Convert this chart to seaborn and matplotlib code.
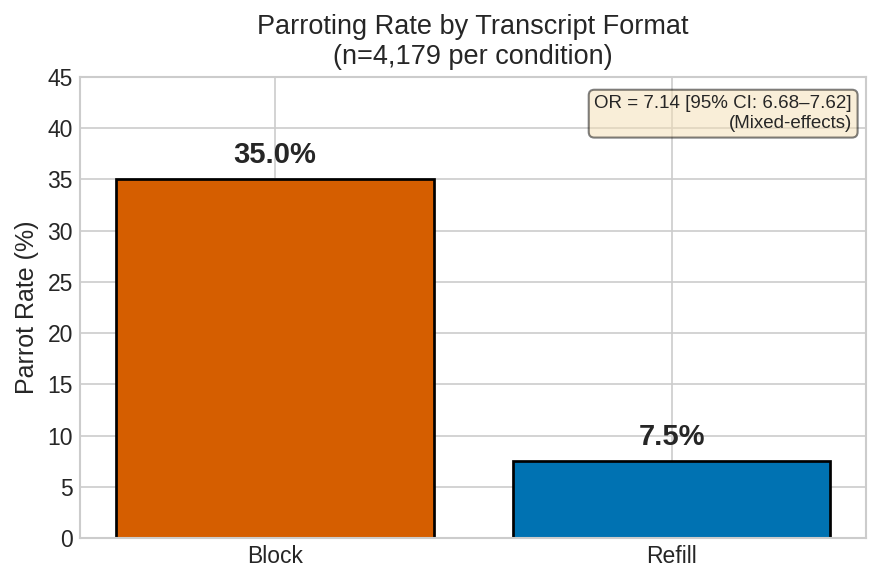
import matplotlib
matplotlib.use("Agg")
from matplotlib import pyplot as plt
import pandas as pd
import seaborn as sns

formats = ["Block", "Refill"]
parrot_rates = [35.0, 7.5]
bar_colors = ["#D55E00", "#0072B2"]

df = pd.DataFrame({"Format": formats, "Rate": parrot_rates})

plt.style.use("seaborn-v0_8-whitegrid")
plt.rcParams["font.family"] = ["Liberation Sans", "DejaVu Sans"]

fig, ax = plt.subplots(figsize=(5.88, 3.887), dpi=150)
sns.barplot(data=df, x="Format", y="Rate", hue="Format", palette=bar_colors,
            saturation=1, edgecolor="black", linewidth=1.3, width=0.8,
            legend=False, ax=ax)

for i, v in enumerate(parrot_rates):
    ax.text(i, v + 1.0, f"{v:.1f}%", ha="center", va="bottom",
            fontsize=14, fontweight="bold", color="#262626")

ax.set_xlim(-0.49, 1.49)
ax.set_ylim(0, 45)
ax.set_xlabel("")
ax.set_ylabel("Parrot Rate (%)", fontsize=12)
ax.set_title("Parroting Rate by Transcript Format\n(n=4,179 per condition)", fontsize=13)
ax.tick_params(labelsize=11)
ax.xaxis.grid(True)
for s in ax.spines.values():
    s.set_visible(True)
    s.set_color("#cccccc")

ax.text(0.982, 0.96, "OR = 7.14 [95% CI: 6.68\u20137.62]\n(Mixed-effects)",
        transform=ax.transAxes, ha="right", va="top", fontsize=9,
        bbox=dict(boxstyle="round", facecolor="wheat", alpha=0.5))

fig.subplots_adjust(left=0.091, right=0.982, top=0.868, bottom=0.077)
plt.savefig("out.png", dpi=150)
